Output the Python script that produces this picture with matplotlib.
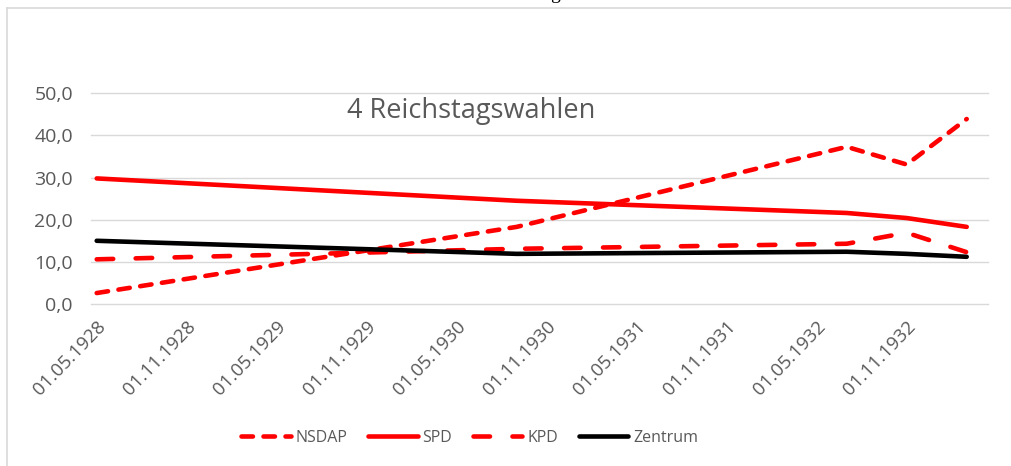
import matplotlib
matplotlib.use("Agg")
import matplotlib.pyplot as plt
from matplotlib.lines import Line2D
from matplotlib.ticker import FuncFormatter, MultipleLocator

# ---- data ----
election_months = ["05.1928", "09.1930", "07.1932", "11.1932", "03.1933"]
nsdap = [2.6, 18.3, 37.3, 33.1, 43.9]
spd = [29.8, 24.5, 21.6, 20.4, 18.3]
kpd = [10.6, 13.1, 14.3, 16.9, 12.3]
zentrum = [15.0, 11.9, 12.4, 11.9, 11.2]
tick_labels = ["01.05.1928", "01.11.1928", "01.05.1929", "01.11.1929",
               "01.05.1930", "01.11.1930", "01.05.1931", "01.11.1931",
               "01.05.1932", "01.11.1932"]
title = "4 Reichstagswahlen"


def month_index(s):
    m, y = s.split(".")
    return (int(y) - 1928) * 12 + int(m) - 5


x = [month_index(s) for s in election_months]
tick_pos = [month_index(t[3:]) for t in tick_labels]

W, H = 1011, 466
fig = plt.figure(figsize=(W / 100, H / 100), dpi=100)
fig.patch.set_facecolor("white")

FONT = ["Open Sans", "DejaVu Sans"]
GRAY = "#595959"

# chart-area border (left and top visible)
fig.add_artist(Line2D([7 / W, 7 / W], [0, 1 - 8 / H], color="#d9d9d9", lw=1.2))
fig.add_artist(Line2D([7 / W, 1.0], [1 - 8 / H, 1 - 8 / H], color="#d9d9d9", lw=1.2))
# clipped descender of text above the screenshot
fig.text(555 / W, 1 + 1 / H, "g", fontsize=14, family="Liberation Serif",
         color="black", ha="center", va="baseline")

left, right, top, bottom = 91, 988, 93.3, 304
ax = fig.add_axes([left / W, 1 - bottom / H, (right - left) / W, (bottom - top) / H])
ax.set_facecolor("none")

lw = 3.3
l1, = ax.plot(x, nsdap, color="#ff0000", lw=lw, dash_capstyle="round",
              solid_capstyle="round", label="NSDAP", zorder=3)
l1.set_dashes([2.5, 2.3])
l2, = ax.plot(x, spd, color="#ff0000", lw=lw, solid_capstyle="round",
              label="SPD", zorder=4)
l3, = ax.plot(x, kpd, color="#ff0000", lw=lw, dash_capstyle="round",
              label="KPD", zorder=5)
l3.set_dashes([3.6, 4.9])
l4, = ax.plot(x, zentrum, color="black", lw=lw, solid_capstyle="round",
              label="Zentrum", zorder=6)

ax.set_xlim(-0.38, 59.42)
ax.set_ylim(0, 50)
ax.yaxis.set_major_locator(MultipleLocator(10))
ax.yaxis.set_major_formatter(FuncFormatter(lambda v, p: f"{v:.1f}".replace(".", ",")))
ax.grid(axis="y", color="#d9d9d9", lw=1.0, zorder=0)
for gl in ax.get_ygridlines():
    gl.set_clip_on(False)
for s in ax.spines.values():
    s.set_visible(False)

ax.set_xticks(tick_pos)
ax.set_xticklabels(tick_labels, rotation=46, ha="right", va="top",
                   rotation_mode="anchor", family=FONT, fontsize=13.5, color=GRAY)
ax.tick_params(axis="x", length=0, pad=10)
ax.tick_params(axis="y", length=0, pad=13, labelsize=14, labelcolor=GRAY)
for t in ax.get_yticklabels():
    t.set_family(FONT)

fig.text(471 / W, 1 - 118 / H, title, fontsize=19.5, family=FONT, color=GRAY,
         ha="center", va="baseline")

leg = fig.legend(handles=[l1, l2, l3, l4], loc="center", ncol=4, frameon=False,
                 bbox_to_anchor=(469.5 / W, 1 - 438 / H),
                 prop={"family": FONT, "size": 11.5},
                 handlelength=3.1, handletextpad=0.3, columnspacing=1.3)
for t in leg.get_texts():
    t.set_color(GRAY)

fig.savefig("out.png", dpi=100, facecolor="white")
